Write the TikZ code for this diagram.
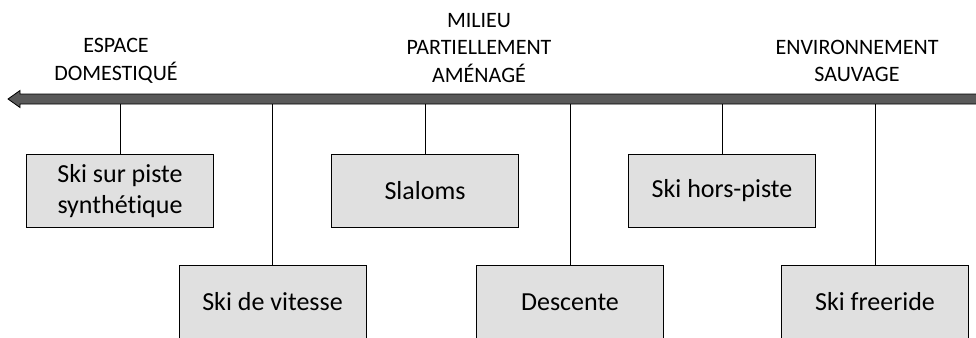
\documentclass[tikz,border=0pt]{standalone}
\usepackage{fontspec}
\setmainfont{Carlito}[Ligatures={NoCommon}]
\definecolor{boxgray}{HTML}{E0E0E0}
\definecolor{axisgray}{HTML}{595959}
\tikzset{
    skibox/.style={draw, thick, fill=boxgray, minimum width=187pt, minimum height=73pt,
        align=center, font=\fontsize{26}{31}\selectfont, inner sep=2pt},
    zone/.style={align=center, font=\fontsize{22}{27.5}\selectfont},
    tige/.style={thick}
}
\begin{document}
\begin{tikzpicture}[x=1pt, y=-1pt]
    \clip (0,0) rectangle (976,337);
    % Axis arrow
    \filldraw[thick, fill=axisgray, line join=miter] (8,99) -- (20,90.5) -- (20,94) -- (990,94)
        -- (990,104) -- (20,104) -- (20,107.5) -- cycle;
    \coordinate (axe) at (0,104);
    % Zones
    \node[zone] (dom) at (116,61) {ESPACE\\DOMESTIQUÉ};
    \node[zone] (mil) at (479,48) {MILIEU\\PARTIELLEMENT\\AMÉNAGÉ};
    \node[zone] (sau) at (857,61) {ENVIRONNEMENT\\SAUVAGE};
    % Activities
    \node[skibox] (synth) at (120,191) {Ski sur piste\\synthétique};
    \node[skibox] (vitesse) at (272.5,302) {Ski de vitesse};
    \node[skibox] (slalom) at (425,191) {Slaloms};
    \node[skibox] (descente) at (570,302) {Descente};
    \node[skibox] (horspiste) at (722,191) {Ski hors-piste};
    \node[skibox] (freeride) at (875,302) {Ski freeride};
    % Links to axis
    \foreach \b in {synth, vitesse, slalom, descente, horspiste, freeride}
        \draw[tige] (\b.north) -- (\b.north |- axe);
\end{tikzpicture}
\end{document}
